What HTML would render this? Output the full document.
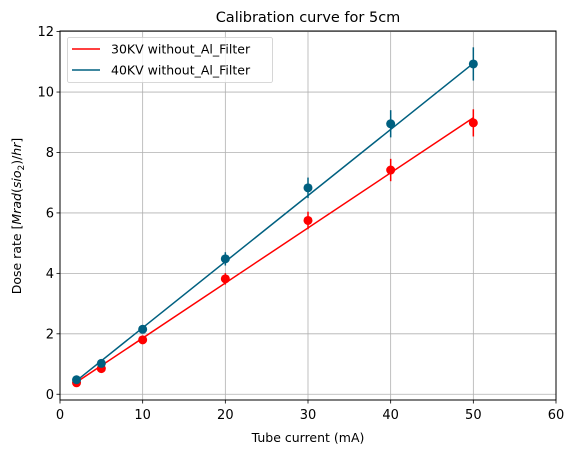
<!DOCTYPE html>
<html><head><meta charset="utf-8"><style>
body{margin:0;background:#fff;font-family:"DejaVu Sans","Liberation Sans",sans-serif;}
svg text{font-family:"DejaVu Sans","Liberation Sans",sans-serif;}
</style></head><body>
<svg id="c" width="574" height="453" xmlns="http://www.w3.org/2000/svg"></svg>
<script>
const xValues=[2,5,10,20,30,40,50];
const red=[0.38,0.85,1.8,3.82,5.75,7.42,8.98];
const redErr=[0.04,0.08,0.1,0.19,0.29,0.37,0.45];
const blue=[0.48,1.02,2.15,4.48,6.83,8.95,10.93];
const blueErr=[0.05,0.1,0.11,0.22,0.34,0.45,0.55];
const redFit=[0.1823,0.035];
const blueFit=[0.21875,0.0125];
const xTicks=[0,10,20,30,40,50,60];
const yTicks=[0,2,4,6,8,10,12];
const L=60,R=556,T=31,B=400,X0=0,X1=60,Y0=-0.19,Y1=12.02;
const sx=v=>L+(v-X0)/(X1-X0)*(R-L);
const sy=v=>B-(v-Y0)/(Y1-Y0)*(B-T);
const svg=document.getElementById('c');const NS='http://www.w3.org/2000/svg';
function mk(t,a,p){const e=document.createElementNS(NS,t);for(const k in a)e.setAttribute(k,a[k]);(p||svg).appendChild(e);return e;}
const g=mk('g',{});


xTicks.forEach(v=>{mk('line',{x1:sx(v),x2:sx(v),y1:T,y2:B,stroke:'#b0b0b0','stroke-width':0.8},g);
mk('line',{x1:sx(v),x2:sx(v),y1:B,y2:B+3.5,stroke:'#000','stroke-width':0.8});
const t=mk('text',{x:sx(v),y:B+19,'text-anchor':'middle','font-size':13});t.textContent=v;

});
yTicks.forEach(v=>{mk('line',{x1:L,x2:R,y1:sy(v),y2:sy(v),stroke:'#b0b0b0','stroke-width':0.8},g);
mk('line',{x1:L-3.5,x2:L,y1:sy(v),y2:sy(v),stroke:'#000','stroke-width':0.8});
const t=mk('text',{x:L-6,y:sy(v)+4.5,'text-anchor':'end','font-size':13});t.textContent=v;

});
function series(vals,errs,fit,col,name){
const s=mk('g',{});


const xa=xValues[0],xb=xValues[xValues.length-1];
mk('line',{x1:sx(xa),y1:sy(fit[0]*xa+fit[1]),x2:sx(xb),y2:sy(fit[0]*xb+fit[1]),stroke:col,'stroke-width':1.5},s);
vals.forEach((v,i)=>{mk('line',{x1:sx(xValues[i]),x2:sx(xValues[i]),y1:sy(v-errs[i]),y2:sy(v+errs[i]),stroke:col,'stroke-width':1.5},s);
const c=mk('circle',{cx:sx(xValues[i]),cy:sy(v),r:4.5,fill:col},s);

});}
series(red,redErr,redFit,'#ff0000','series-30kv');
series(blue,blueErr,blueFit,'#006080','series-40kv');
mk('rect',{x:L,y:T,width:R-L,height:B-T,fill:'none',stroke:'#000','stroke-width':1});
const lg=mk('g',{});


mk('rect',{x:67.5,y:37.5,width:205,height:45,rx:2,fill:'#fff','fill-opacity':0.8,stroke:'#ccc','stroke-width':0.8},lg);
[['#ff0000','30KV without_Al_Filter',49],['#006080','40KV without_Al_Filter',70]].forEach(d=>{
mk('line',{x1:72,x2:100,y1:d[2],y2:d[2],stroke:d[0],'stroke-width':1.5},lg);
const t=mk('text',{x:111,y:d[2]+4.5,'font-size':12.5},lg);t.textContent=d[1];

});
</script>
<svg width="574" height="453" style="position:absolute;left:0;top:0" xmlns="http://www.w3.org/2000/svg">
<text x="308" y="22" text-anchor="middle" font-size="14.5">Calibration curve for 5cm</text>
<text x="308" y="442" text-anchor="middle" font-size="12.5">Tube current (mA)</text>
<text transform="translate(21,216) rotate(-90)" text-anchor="middle" font-size="12.5">Dose rate [<tspan font-style="italic">Mrad</tspan>(<tspan font-style="italic">sio</tspan><tspan font-size="9" dy="3">2</tspan><tspan dy="-3">)/</tspan><tspan font-style="italic">hr</tspan>]</text>
</svg>
</body></html>
